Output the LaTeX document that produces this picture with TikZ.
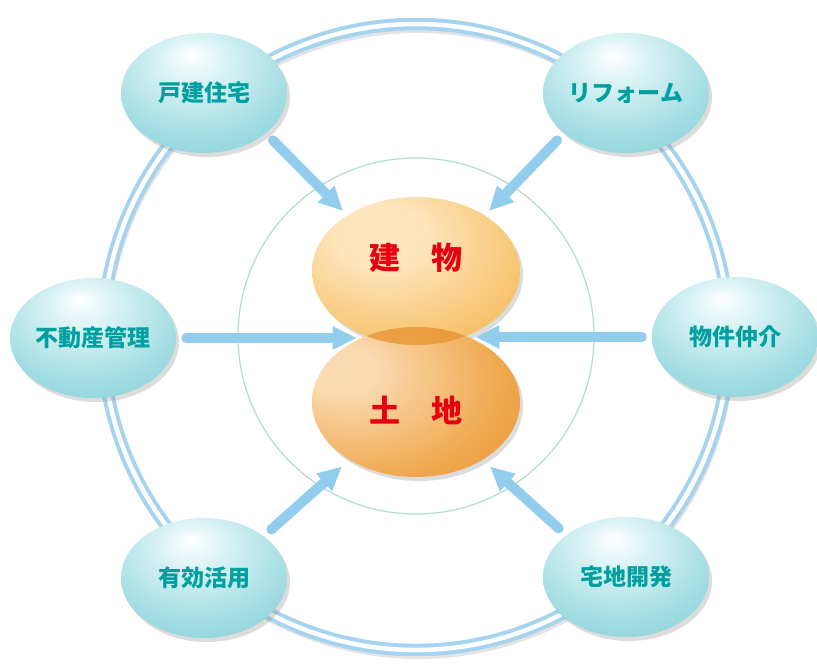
\documentclass[tikz,border=0pt]{standalone}
\usepackage{fontspec}
\newfontfamily\jpfont{Noto Sans CJK JP}
\usetikzlibrary{calc,arrows.meta,shapes.geometric,shadows}
\definecolor{ringblue}{RGB}{166,212,238}
\definecolor{arrowblue}{RGB}{146,205,237}
\definecolor{innerline}{RGB}{184,220,212}
\definecolor{tealtext}{RGB}{0,160,160}
\definecolor{redtext}{RGB}{230,0,18}
\definecolor{tealL}{RGB}{224,245,246}
\definecolor{tealM}{RGB}{162,221,227}
\definecolor{tealD}{RGB}{112,196,206}
\definecolor{orgL}{RGB}{253,230,190}
\definecolor{orgM}{RGB}{248,196,112}
\definecolor{orgD}{RGB}{238,160,58}
\definecolor{brnL}{RGB}{250,218,176}
\definecolor{brnM}{RGB}{240,168,78}
\definecolor{brnD}{RGB}{224,132,32}
\definecolor{overlap}{RGB}{232,150,50}
\pgfdeclareradialshading{tealball}{\pgfpoint{-4bp}{16bp}}{color(0bp)=(white); color(8bp)=(tealL); color(28bp)=(tealM); color(50bp)=(tealD); color(70bp)=(tealD)}
\pgfdeclareradialshading{tatemonoball}{\pgfpoint{-10bp}{14bp}}{color(0bp)=(orgL); color(10bp)=(orgL); color(32bp)=(orgM); color(54bp)=(orgD); color(75bp)=(orgD)}
\pgfdeclareradialshading{tochiball}{\pgfpoint{-20bp}{12bp}}{color(0bp)=(brnL); color(8bp)=(brnL); color(32bp)=(brnM); color(56bp)=(brnD); color(75bp)=(brnD)}

\begin{document}
\begin{tikzpicture}[x=1pt,y=-1pt,
    softshadow/.style={drop shadow={shadow xshift=3pt,shadow yshift=-4pt,opacity=.3,fill=black!45}},
    bubble/.style={ellipse,shading=tealball,softshadow,minimum width=166pt,minimum height=120pt,inner sep=0pt,
      font=\jpfont\bfseries\fontsize{23}{23}\selectfont,text=tealtext},
    core/.style={ellipse,softshadow,minimum width=208pt,minimum height=150pt,inner sep=0pt},
    coretext/.style={font=\jpfont\bfseries\fontsize{31}{31}\selectfont,text=redtext,inner sep=0pt},
    arr/.style={arrowblue,line width=10pt,line cap=round,-{Triangle[length=24pt,width=22pt]},
      shorten <=10pt,shorten >=6pt}]
  \useasboundingbox (0,0) rectangle (817,667);
  % ring and inner circle
  \draw[black!30,opacity=.35,line width=8pt] (418,342) circle[radius=313];
  \draw[ringblue,line width=4pt,double=white,double distance=4.5pt] (416,337) circle[radius=313];
  \draw[innerline,line width=1.3pt] (416,336) circle[radius=178];
  % outer nodes
  \node[bubble](kodate)at(204,93){戸建住宅};
  \node[bubble](reform)at(626,93){リフォーム};
  \node[bubble](kanri)at(93,338){不動産管理};
  \node[bubble](chukai)at(735,337){物件仲介};
  \node[bubble](katsuyo)at(204,578){有効活用};
  \node[bubble](kaihatsu)at(626,577){宅地開発};
  % center
  \node[core,shading=tatemonoball,minimum height=148pt](tatemono)at(416,271){};
  \node[core,shading=tochiball](tochi)at(416,402){};
  \begin{scope}
    \clip (416,402) ellipse[x radius=104,y radius=75];
    \fill[overlap,opacity=.8] (416,271) ellipse[x radius=104,y radius=74];
  \end{scope}
  \node[coretext] at ([yshift=13pt]tatemono.center) {建　物};
  \node[coretext] at ([yshift=-8pt]tochi.center) {土　地};
  % arrows
  \draw[arr] (kodate.-33) -- (tatemono.141);
  \draw[arr] (reform.-147) -- (tatemono.39);
  \draw[arr] (kanri.east) -- (kanri.east -| tatemono.-130);
  \draw[arr] (chukai.west) -- (chukai.west -| tatemono.-50);
  \draw[arr,shorten >=10pt] (katsuyo.35) -- (tochi.-139);
  \draw[arr,shorten >=10pt] (kaihatsu.145) -- (tochi.-41);
\end{tikzpicture}
\end{document}
